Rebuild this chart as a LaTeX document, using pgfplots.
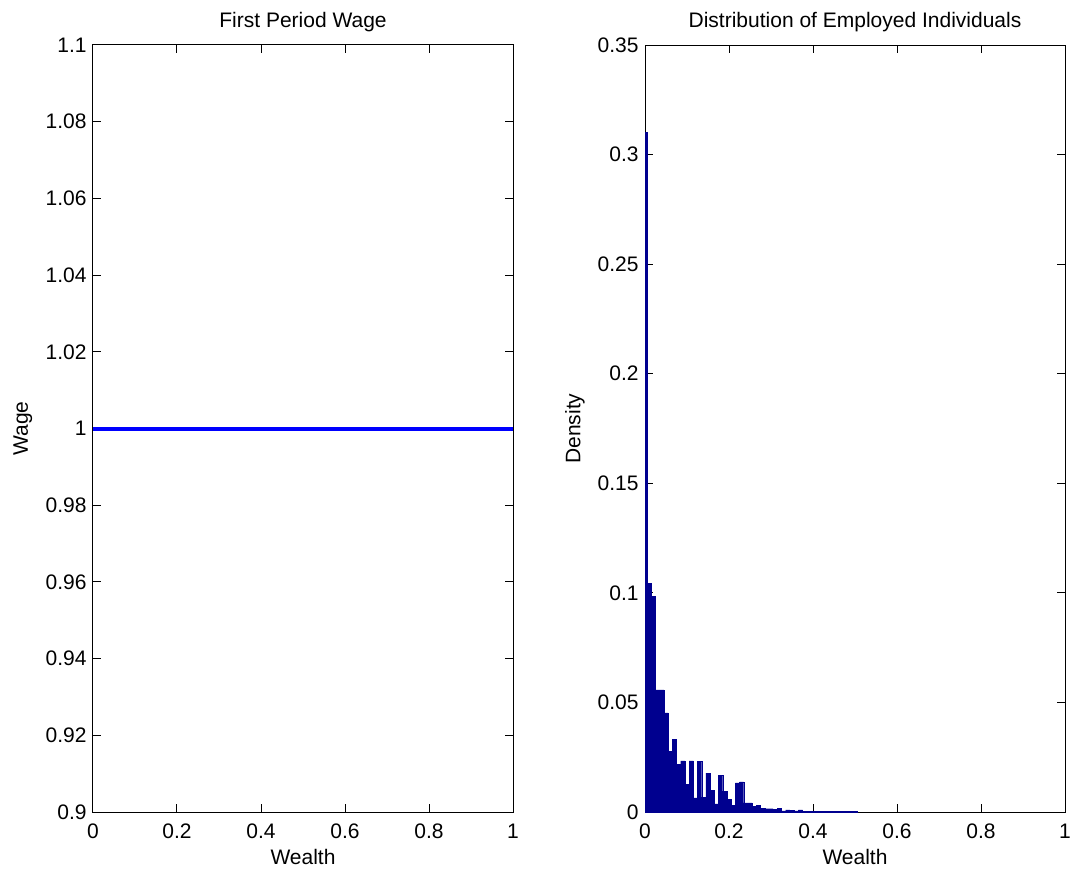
\documentclass[border=0pt]{standalone}
\usepackage{fontspec}
\setmainfont{Liberation Sans}
\usepackage{pgfplots}
\pgfplotsset{compat=1.18}
\definecolor{matnavy}{rgb}{0,0,0.5625}
\pgfplotsset{
  every axis/.append style={
    scale only axis,
    width=210pt, height=383.5pt,
    axis line style={black, line width=0.5pt},
    tick align=inside,
    major tick length=4pt,
    tick style={black, line width=0.5pt},
    xmin=0, xmax=1,
    xtick={0,0.2,0.4,0.6,0.8,1},
    /pgf/number format/assume math mode=true,
    tick label style={font=\fontsize{10.5}{12.6}\selectfont},
    label style={font=\fontsize{10.5}{12.6}\selectfont},
    title style={font=\fontsize{10.5}{12.6}\selectfont},
    xticklabel style={anchor=base, yshift=-13pt},
    yticklabel style={anchor=east, inner sep=0pt, xshift=-3pt},
    xlabel style={at={(axis description cs:0.5,-0.0678)}, anchor=base},
    ylabel style={at={(axis description cs:-0.167,0.5)}, anchor=center},
    % pgfplots adds its own 6pt title shift on top of this
    title style={at={(axis description cs:0.5,1.0066)}, anchor=base},
  }
}

\begin{document}
\begin{tikzpicture}
\path[use as bounding box] (-46.5pt,-31.5pt) rectangle (489pt,406pt);

% left: wage
\begin{axis}[
  at={(0pt,0pt)}, anchor=south west,
  ymin=0.9, ymax=1.1,
  ytick={0.9,0.92,0.94,0.96,0.98,1,1.02,1.04,1.06,1.08,1.1},
  yticklabels={0.9,0.92,0.94,0.96,0.98,1,1.02,1.04,1.06,1.08,1.1},
  xlabel={Wealth}, ylabel={Wage},
  title={First Period Wage},
]
\addplot[blue, line width=2pt] coordinates {(0,1) (1,1)};
\end{axis}

% right: histogram
\begin{axis}[
  at={(276pt,0pt)}, anchor=south west,
  ymin=0, ymax=0.35,
  ytick={0,0.05,0.1,0.15,0.2,0.25,0.3,0.35},
  yticklabels={0,0.05,0.1,0.15,0.2,0.25,0.3,0.35},
  xlabel={Wealth}, ylabel={Density},
  title={Distribution of Employed Individuals},
]
\addplot[ybar, bar width=0.01, bar shift=0pt, fill=matnavy, draw=matnavy, line width=0.2pt]
coordinates {
(0,0.310) (0.01,0.1045) (0.02,0.0985) (0.03,0.0557) (0.04,0.0557)
(0.05,0.0452) (0.06,0.0277) (0.07,0.0330) (0.08,0.0217) (0.09,0.0233)
(0.10,0.0125) (0.11,0.0233) (0.12,0.0065) (0.13,0.0230) (0.14,0.0068)
(0.15,0.0178) (0.16,0.0098) (0.17,0.0037) (0.18,0.0166) (0.19,0.0095)
(0.20,0.0057) (0.21,0.0030) (0.22,0.0133) (0.23,0.0137) (0.24,0.0042)
(0.25,0.0042) (0.26,0.0027) (0.27,0.0030) (0.28,0.0018) (0.29,0.0015)
(0.30,0.0015) (0.31,0.0012) (0.32,0.0018) (0.33,0.0005) (0.34,0.0010)
(0.35,0.0008) (0.36,0.0005) (0.37,0.0010) (0.38,0.0003) (0.39,0.0003)
(0.40,0.0003) (0.41,0.0003) (0.42,0.0003) (0.43,0.0003) (0.44,0.0003)
(0.45,0.0003) (0.46,0.0003) (0.47,0.0003) (0.48,0.0003) (0.49,0.0003)
(0.50,0.0003)
};
\end{axis}
\end{tikzpicture}
\end{document}
